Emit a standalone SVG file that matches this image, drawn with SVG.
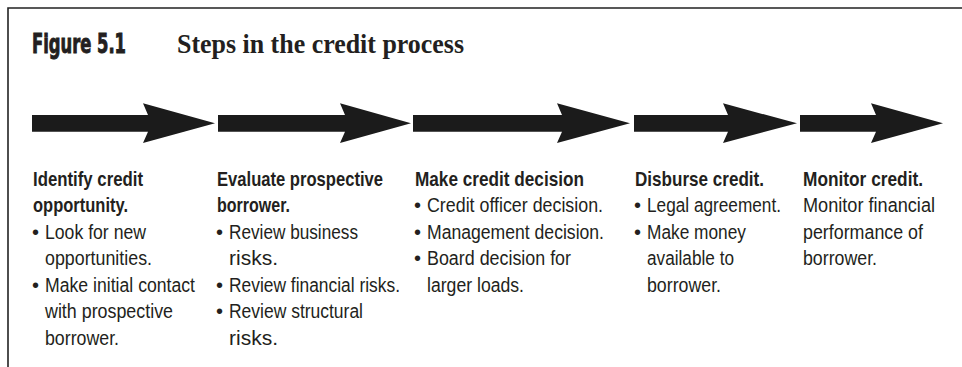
<svg xmlns="http://www.w3.org/2000/svg" width="962" height="367" viewBox="0 0 962 367">
<style>
.frame{fill:none;stroke:#222;stroke-width:1.6}
.arr{fill:#1b1b1b}
.fig{font-family:"Liberation Sans Narrow","DejaVu Sans Condensed","Liberation Sans",sans-serif;font-weight:bold;font-size:27px;fill:#231f20;stroke:#231f20;stroke-width:0.9}
.ttl{font-family:"Liberation Serif","DejaVu Serif",serif;font-weight:bold;font-size:27px;fill:#231f20}
.h{font-family:"Liberation Sans Narrow","Liberation Sans",sans-serif;font-weight:bold;font-size:20.5px;fill:#231f20}
.b{font-family:"Liberation Sans Narrow","Liberation Sans",sans-serif;font-size:20px;fill:#231f20}
</style>
<rect width="962" height="367" fill="#fff"/>
<path class="frame" d="M8,367 L8,8 L962,8"/>
<g id="title">
<text class="fig" x="32" y="53" textLength="94" lengthAdjust="spacingAndGlyphs">Figure 5.1</text>
<text class="ttl" x="177" y="53" textLength="287" lengthAdjust="spacingAndGlyphs">Steps in the credit process</text>
</g>
<g id="connectors">
<path class="arr" d="M32,115 L148,115 L143,103.3 L215,123.3 L143,143 L148,131.7 L32,131.7 Z"/>
<path class="arr" d="M218,115 L345,115 L340,103.3 L411,123.3 L340,143 L345,131.7 L218,131.7 Z"/>
<path class="arr" d="M413,115 L562,115 L557,103.3 L630,123.3 L557,143 L562,131.7 L413,131.7 Z"/>
<path class="arr" d="M634,115 L728,115 L723,103.3 L797,123.3 L723,143 L728,131.7 L634,131.7 Z"/>
<path class="arr" d="M800,115 L876,115 L871,103.3 L943,123.3 L871,143 L876,131.7 L800,131.7 Z"/>
</g>
<g id="step1">
<text class="h" x="33" y="186" textLength="110" lengthAdjust="spacingAndGlyphs">Identify credit</text>
<text class="h" x="33" y="212" textLength="95" lengthAdjust="spacingAndGlyphs">opportunity.</text>
<text class="b" x="32" y="238.5">•</text>
<text class="b" x="45" y="238.5" textLength="101" lengthAdjust="spacingAndGlyphs">Look for new</text>
<text class="b" x="45" y="265" textLength="107" lengthAdjust="spacingAndGlyphs">opportunities.</text>
<text class="b" x="32" y="291.7">•</text>
<text class="b" x="45" y="291.7" textLength="150" lengthAdjust="spacingAndGlyphs">Make initial contact</text>
<text class="b" x="45" y="318.3" textLength="128" lengthAdjust="spacingAndGlyphs">with prospective</text>
<text class="b" x="45" y="345" textLength="74" lengthAdjust="spacingAndGlyphs">borrower.</text>
</g>
<g id="step2">
<text class="h" x="217" y="186" textLength="166" lengthAdjust="spacingAndGlyphs">Evaluate prospective</text>
<text class="h" x="217" y="212" textLength="73" lengthAdjust="spacingAndGlyphs">borrower.</text>
<text class="b" x="216" y="238.5">•</text>
<text class="b" x="229" y="238.5" textLength="129" lengthAdjust="spacingAndGlyphs">Review business</text>
<text class="b" x="229" y="265" textLength="49" lengthAdjust="spacingAndGlyphs">risks.</text>
<text class="b" x="216" y="291.7">•</text>
<text class="b" x="229" y="291.7" textLength="171" lengthAdjust="spacingAndGlyphs">Review financial risks.</text>
<text class="b" x="216" y="318.3">•</text>
<text class="b" x="229" y="318.3" textLength="134" lengthAdjust="spacingAndGlyphs">Review structural</text>
<text class="b" x="229" y="345" textLength="49" lengthAdjust="spacingAndGlyphs">risks.</text>
</g>
<g id="step3">
<text class="h" x="415" y="186" textLength="169" lengthAdjust="spacingAndGlyphs">Make credit decision</text>
<text class="b" x="414" y="212">•</text>
<text class="b" x="427" y="212" textLength="176" lengthAdjust="spacingAndGlyphs">Credit officer decision.</text>
<text class="b" x="414" y="238.5">•</text>
<text class="b" x="427" y="238.5" textLength="177" lengthAdjust="spacingAndGlyphs">Management decision.</text>
<text class="b" x="414" y="265">•</text>
<text class="b" x="427" y="265" textLength="144" lengthAdjust="spacingAndGlyphs">Board decision for</text>
<text class="b" x="427" y="291.7" textLength="97" lengthAdjust="spacingAndGlyphs">larger loads.</text>
</g>
<g id="step4">
<text class="h" x="635" y="186" textLength="129" lengthAdjust="spacingAndGlyphs">Disburse credit.</text>
<text class="b" x="634" y="212">•</text>
<text class="b" x="647" y="212" textLength="134" lengthAdjust="spacingAndGlyphs">Legal agreement.</text>
<text class="b" x="634" y="238.5">•</text>
<text class="b" x="647" y="238.5" textLength="99" lengthAdjust="spacingAndGlyphs">Make money</text>
<text class="b" x="647" y="265" textLength="87" lengthAdjust="spacingAndGlyphs">available to</text>
<text class="b" x="647" y="291.7" textLength="74" lengthAdjust="spacingAndGlyphs">borrower.</text>
</g>
<g id="step5">
<text class="h" x="803" y="186" textLength="120" lengthAdjust="spacingAndGlyphs">Monitor credit.</text>
<text class="b" x="803" y="212" textLength="132" lengthAdjust="spacingAndGlyphs">Monitor financial</text>
<text class="b" x="803" y="238.5" textLength="120" lengthAdjust="spacingAndGlyphs">performance of</text>
<text class="b" x="803" y="265" textLength="74" lengthAdjust="spacingAndGlyphs">borrower.</text>
</g>
</svg>
